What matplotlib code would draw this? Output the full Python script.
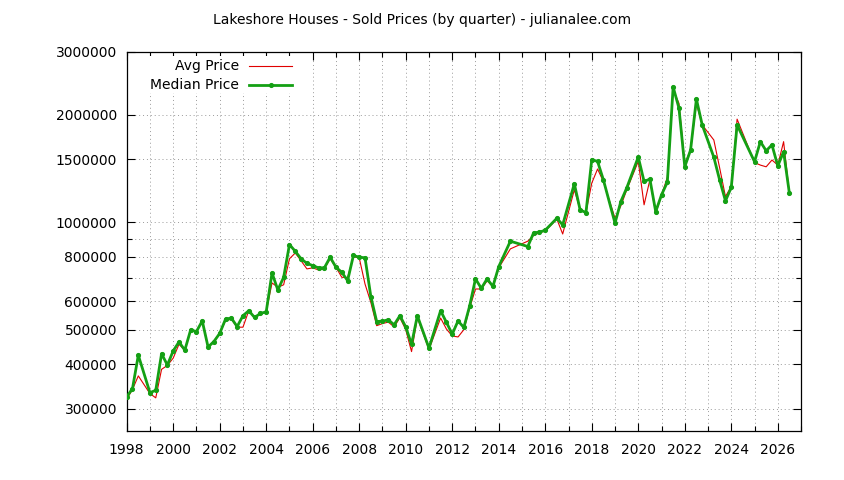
import numpy as np
import matplotlib
matplotlib.use("Agg")
import matplotlib.pyplot as plt
from matplotlib.ticker import FixedLocator, MultipleLocator
from matplotlib.patches import Rectangle

plt.rcParams["font.family"] = ["DejaVu Sans"]
plt.rcParams["font.size"] = 9.5

# quarterly data, first quarter = 1998 Q1, None = no sales that quarter
first_year = 1998

avg_price = [
    319000, 340000, 371000, None,
    331000, 322000, 387000, 397000,
    416000, 455000, 438000, 499000,
    494000, 529000, 445000, 465000,
    488000, 530000, 535000, 508000,
    508000, 565000, 541000, 555000,
    561000, 676000, 657000, 668000,
    790000, 820000, 780000, 740000,
    745000, 735000, 740000, 790000,
    748000, 701000, 700000, 800000,
    795000, 671000, 596000, 513000,
    520000, 525000, 509000, 540000,
    500000, 434000, 540000, None,
    440000, None, 539000, 502000,
    480000, 477000, 500000, 575000,
    650000, 650000, 685000, 661000,
    745000, None, 842000, None,
    None, 885000, 918000, 935000,
    945000, None, 1020000, 927000,
    None, 1233000, 1083000, 1064000,
    1287000, 1410000, 1300000, None,
    1026000, 1111000, 1230000, None,
    1481000, 1119000, 1315000, 1060000,
    1190000, 1336000, 2352000, 2154000,
    1460000, 1594000, 2150000, 1874000,
    None, 1700000, 1420000, 1180000,
    1260000, 1945000, None, None,
    1470000, 1446000, 1430000, 1494000,
    1446000, 1682000, 1204000,
]

median_price = [
    324000, 342000, 424000, None,
    333000, 338000, 428000, 398000,
    436000, 462000, 438000, 499000,
    494000, 529000, 447000, 463000,
    488000, 535000, 539000, 510000,
    547000, 565000, 541000, 555000,
    561000, 721000, 646000, 701000,
    866000, 829000, 790000, 767000,
    756000, 745000, 745000, 798000,
    748000, 724000, 686000, 807000,
    798000, 795000, 619000, 527000,
    528000, 533000, 516000, 547000,
    509000, 455000, 547000, None,
    444000, None, 565000, 524000,
    486000, 529000, 507000, 583000,
    694000, 653000, 694000, 661000,
    751000, None, 885000, None,
    None, 855000, 934000, 938000,
    950000, None, 1026000, 983000,
    None, 1282000, 1083000, 1064000,
    1497000, 1481000, 1315000, None,
    994000, 1143000, 1246000, None,
    1523000, 1301000, 1321000, 1071000,
    1193000, 1295000, 2395000, 2088000,
    1431000, 1594000, 2214000, 1874000,
    None, 1521000, 1313000, 1148000,
    1252000, 1874000, None, None,
    1478000, 1682000, 1586000, 1647000,
    1438000, 1576000, 1204000,
]

y_ticks = [300000, 400000, 500000, 600000, 800000, 1000000, 1500000, 2000000, 3000000]
y_minor = [700000, 900000]


def series(values):
    x = first_year + np.arange(len(values)) / 4.0
    keep = [v is not None for v in values]
    return x[keep], np.array([v for v in values if v is not None], dtype=float)


avg_x, avg_y = series(avg_price)
med_x, med_y = series(median_price)

RED = "#e00000"
GREEN = "#14a014"

fig = plt.figure(figsize=(8.44, 4.8), dpi=100)
ax = fig.add_axes([0.1501, 0.1021, 0.799, 0.7896])

ax.plot(avg_x, avg_y, color=RED, lw=0.8, zorder=3)
ax.plot(med_x, med_y, color=GREEN, lw=2.0, marker="o", ms=2.7,
        mfc=GREEN, mec=GREEN, zorder=4)

ax.set_yscale("log")
ax.set_ylim(260000, 3000000)
ax.set_xlim(1998, 2027)

ax.yaxis.set_major_locator(FixedLocator(y_ticks))
ax.yaxis.set_minor_locator(FixedLocator(y_minor))
ax.set_yticklabels([str(v) for v in y_ticks])
ax.yaxis.set_minor_formatter(plt.NullFormatter())

ax.xaxis.set_major_locator(MultipleLocator(2))
ax.xaxis.set_minor_locator(MultipleLocator(1))
ax.xaxis.set_major_formatter(plt.FuncFormatter(lambda v, p: "%d" % v))

# GRID
ax.set_axisbelow(True)
ax.grid(True, which="both", color="#9a9a9a", lw=0.7, linestyle=(0, (1, 3)))

# TICKS (gnuplot style: inside, mirrored)
ax.tick_params(axis="both", which="major", direction="in", length=6, width=0.8,
               top=True, right=True, labelsize=10, pad=7, colors="black")
ax.tick_params(axis="both", which="minor", direction="in", length=3.5, width=0.8,
               top=True, right=True)
ax.tick_params(axis="x", which="major", pad=9)
for s in ax.spines.values():
    s.set_linewidth(0.9)

# LEGEND (right aligned text, sample on the right)
ax.add_patch(Rectangle((0.0, 0.892), 0.264, 0.097, transform=ax.transAxes,
                       facecolor="white", edgecolor="none", zorder=1))
ax.text(0.1665, 0.963, "Avg Price", transform=ax.transAxes, ha="right", va="center",
        fontsize=10, zorder=5)
ax.text(0.1665, 0.913, "Median Price", transform=ax.transAxes, ha="right", va="center",
        fontsize=10, zorder=5)
ax.plot([0.1814, 0.2451], [0.963, 0.963], transform=ax.transAxes, color=RED, lw=0.8,
        clip_on=False, zorder=5)
ax.plot([0.1814, 0.2451], [0.913, 0.913], transform=ax.transAxes, color=GREEN, lw=2.0,
        clip_on=False, zorder=5)
ax.plot([0.2133], [0.913], transform=ax.transAxes, color=GREEN, marker="o", ms=2.7,
        clip_on=False, zorder=5)

# TITLE
fig.text(0.5, 1 - 20 / 480, "Lakeshore Houses - Sold Prices (by quarter) - julianalee.com",
         ha="center", va="center", fontsize=10)

fig.savefig("out.png", dpi=100)
